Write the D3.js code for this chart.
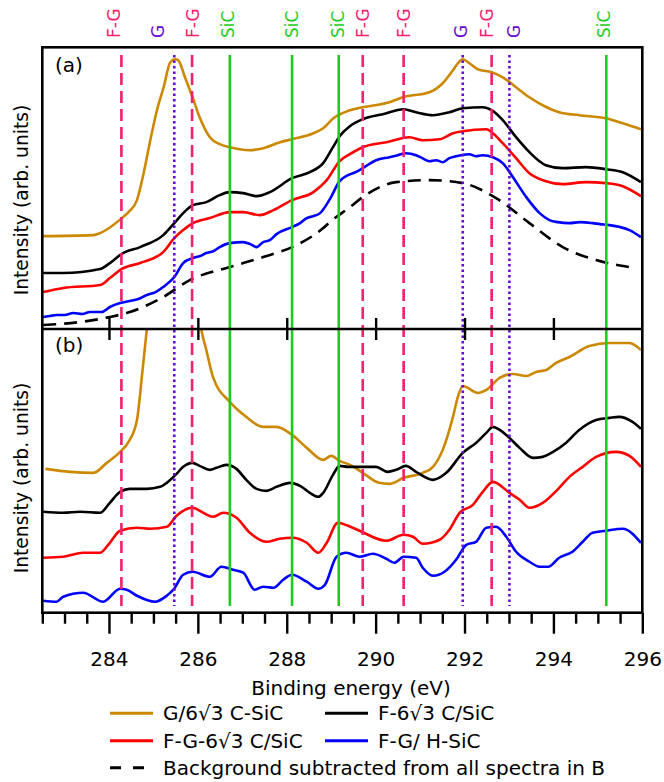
<!DOCTYPE html>
<html>
<head>
<meta charset="utf-8">
<script src="https://cdn.jsdelivr.net/npm/d3@7"></script>
<style>
  body { margin: 0; background: #fff; }
  svg { display: block; font-family: "DejaVu Sans", Verdana, sans-serif; }
</style>
</head>
<body>
<svg id="chart" width="664" height="782"></svg>
<script>
// binding energy (eV), intensity (arb. units) -- panel (a): raw spectra
const goldA = [[282.52,93],[283.65,94],[283.8,96],[284.29,111],[284.44,117],[284.63,129],[284.78,156],[284.93,189],[285.08,219],[285.23,242],[285.38,267],[285.49,270],[285.56,269],[285.71,252],[285.88,232],[286.04,212],[286.27,192],[286.49,185],[286.72,182],[287.17,179],[287.47,181],[287.85,187],[288.12,190],[288.6,196],[288.82,201],[289.05,211],[289.42,219],[289.71,222],[290.31,227],[290.61,232],[291.21,237],[291.51,246],[291.74,259],[291.85,266],[291.96,270],[292.11,266],[292.3,260],[292.61,257],[292.86,252],[293.16,242],[293.46,232],[293.76,224],[294.13,217],[294.58,214],[295.18,211],[295.56,206],[295.97,200]];
const blackA = [[282.52,56],[282.97,56],[283.8,60],[284.02,66],[284.28,75],[284.7,82],[285.22,94],[285.47,106],[285.67,116],[285.89,124],[286.19,127],[286.49,134],[286.72,137],[287.02,136],[287.32,133],[287.62,137],[288.12,151],[288.52,157],[288.82,166],[289.04,182],[289.19,193],[289.42,203],[289.71,210],[290.16,215],[290.63,220],[290.91,217],[291.29,214],[291.66,217],[291.96,221],[292.41,222],[292.61,219],[292.86,209],[293.16,192],[293.46,177],[293.83,164],[294.21,161],[294.73,162],[295.18,160],[295.56,157],[295.97,147]];
const redA = [[282.52,37],[282.97,41],[283.8,44],[284.02,51],[284.28,60],[284.7,66],[285.22,77],[285.47,91],[285.67,99],[285.89,106],[286.27,111],[286.72,117],[287.02,117],[287.39,114],[287.7,119],[288.12,129],[288.6,137],[288.9,149],[289.19,168],[289.42,175],[289.71,182],[290.24,187],[290.76,192],[291.06,189],[291.44,190],[291.74,196],[291.96,198],[292.49,200],[292.61,197],[292.86,186],[293.16,171],[293.46,156],[293.83,148],[294.21,145],[294.73,147],[295.18,146],[295.56,143],[295.97,133]];
const blueA = [[282.52,12],[282.67,13],[282.82,14],[283.0,14],[283.2,16],[283.4,15],[283.57,17],[283.84,17],[284.02,22],[284.25,26],[284.47,28],[284.66,30],[284.85,34],[285.05,37],[285.22,42],[285.47,52],[285.67,66],[285.89,71],[286.05,73],[286.19,76],[286.35,78],[286.49,82],[286.72,86],[287.02,87],[287.18,85],[287.32,82],[287.47,87],[287.62,89],[287.77,95],[288.12,102],[288.3,106],[288.45,111],[288.6,113],[288.75,116],[288.97,130],[289.19,148],[289.38,154],[289.55,157],[289.71,161],[290.01,169],[290.31,172],[290.5,174],[290.68,176],[290.91,174],[291.05,171],[291.21,168],[291.36,169],[291.51,167],[291.66,171],[291.81,173],[292.11,175],[292.25,173],[292.41,174],[292.64,172],[292.86,166],[293.09,152],[293.39,132],[293.69,116],[293.91,109],[294.1,107],[294.36,106],[294.6,107],[294.88,106],[295.05,105],[295.26,104],[295.5,102],[295.71,99],[295.97,92]];
const bgA = [[282.52,4],[283.35,7],[284.02,12],[284.47,17],[285.22,32],[285.82,49],[286.72,62],[287.47,72],[288.22,84],[288.82,101],[288.97,107],[289.42,122],[289.71,132],[290.46,147],[291.21,149],[291.96,146],[292.71,131],[293.46,106],[294.21,82],[294.96,69],[295.71,62]];

// panel (b): background-subtracted spectra
const goldB = [[282.57,144],[283.13,141],[283.65,140],[283.95,150],[284.25,161],[284.44,171],[284.63,193],[284.74,236],[284.85,283],[285.5,620],[286.08,283],[286.19,263],[286.34,236],[286.72,211],[287.09,196],[287.47,186],[287.77,186],[288.12,178],[288.45,165],[288.82,153],[289.0,157],[289.19,152],[289.42,148],[289.71,140],[290.08,130],[290.31,129],[290.63,135],[291.06,140],[291.29,146],[291.51,163],[291.74,196],[291.85,216],[291.96,227],[292.3,220],[292.49,223],[292.79,235],[293.09,239],[293.39,237],[293.61,241],[293.84,243],[294.06,250],[294.36,256],[294.81,267],[295.26,270],[295.71,270],[295.97,263]];
const blackB = [[282.52,101],[282.97,100],[283.35,101],[283.8,100],[284.02,110],[284.25,121],[284.47,124],[284.85,124],[285.15,126],[285.3,130],[285.52,139],[285.67,146],[285.88,150],[286.04,147],[286.27,143],[286.42,145],[286.64,148],[286.87,144],[287.09,133],[287.32,124],[287.54,122],[287.77,126],[288.07,130],[288.3,127],[288.52,120],[288.71,116],[288.82,120],[289.04,138],[289.19,147],[289.38,146],[289.71,146],[290.01,146],[290.27,141],[290.46,143],[290.68,147],[290.91,141],[291.29,133],[291.59,140],[291.96,160],[292.26,170],[292.49,180],[292.64,186],[292.79,183],[293.01,175],[293.24,165],[293.54,155],[293.76,156],[293.99,161],[294.28,170],[294.58,183],[294.96,193],[295.26,195],[295.48,196],[295.78,191],[295.97,184]];
const redB = [[282.52,55],[282.97,56],[283.42,60],[283.8,60],[284.02,70],[284.25,82],[284.63,85],[284.93,84],[285.3,86],[285.52,97],[285.88,105],[286.12,100],[286.34,96],[286.57,100],[286.87,95],[287.17,80],[287.54,71],[287.84,74],[288.12,75],[288.45,70],[288.71,60],[288.9,70],[289.15,90],[289.38,87],[289.64,82],[290.24,72],[290.63,78],[290.84,76],[291.06,69],[291.44,73],[291.66,83],[291.89,100],[292.19,108],[292.41,121],[292.64,131],[293.01,120],[293.24,113],[293.46,105],[293.76,110],[294.13,125],[294.36,136],[294.66,146],[294.96,156],[295.41,161],[295.71,157],[295.97,146]];
const blueB = [[282.52,12],[282.82,11],[282.97,16],[283.42,20],[283.87,11],[284.25,24],[284.4,23],[284.63,17],[285.04,11],[285.3,17],[285.45,23],[285.67,38],[285.88,41],[286.27,36],[286.53,46],[286.79,43],[287.02,40],[287.28,23],[287.47,26],[287.7,25],[287.92,33],[288.12,38],[288.45,31],[288.71,24],[288.86,28],[289.12,56],[289.34,60],[289.64,56],[289.94,59],[290.24,54],[290.42,50],[290.63,56],[290.91,55],[291.06,45],[291.29,37],[291.55,41],[291.81,53],[292.04,68],[292.26,71],[292.49,85],[292.71,86],[292.94,76],[293.16,61],[293.46,51],[293.69,46],[293.88,46],[294.13,55],[294.43,61],[294.66,71],[294.88,80],[295.18,82],[295.56,84],[295.97,70]];

// marker lines: [energy, kind]
const markerLines = [[284.28,"FG"],[285.47,"G"],[285.87,"FG"],[286.72,"SiC"],[288.12,"SiC"],[289.17,"SiC"],[289.71,"FG"],[290.63,"FG"],[291.96,"G"],[292.61,"FG"],[293.01,"G"],[295.19,"SiC"]];
// marker labels: [energy, text, kind]
const markerLabels = [[284.10,"F-G","FG"],[285.11,"G","G"],[285.89,"F-G","FG"],[286.68,"SiC","SiC"],[288.11,"SiC","SiC"],[289.15,"SiC","SiC"],[289.72,"F-G","FG"],[290.63,"F-G","FG"],[291.91,"G","G"],[292.50,"F-G","FG"],[293.10,"G","G"],[295.13,"SiC","SiC"]];

const majorTicks = [284, 286, 288, 290, 292, 294, 296];
const minorTicks = d3.range(282.5, 296.01, 0.5).filter(v => v % 2 !== 0);

const kindStyle = {
  FG: { color: "#f2206e", dash: "12,6" },
  G: { color: "#6a0ad0", dash: "2.5,3" },
  SiC: { color: "#1ecc1e", dash: null }
};

const seriesA = [
  { data: goldA, color: "#cc8800" },
  { data: blackA, color: "#000000" },
  { data: redA, color: "#ff0000" },
  { data: blueA, color: "#0000ff" },
  { data: bgA, color: "#000000", dash: "13,8" }
];
const seriesB = [
  { data: goldB, color: "#cc8800" },
  { data: blackB, color: "#000000" },
  { data: redB, color: "#ff0000" },
  { data: blueB, color: "#0000ff" }
];

const legendItems = [
  { label: "G/6\u221A3 C-SiC", color: "#cc8800", col: 0, row: 0 },
  { label: "F-6\u221A3 C/SiC", color: "#000000", col: 1, row: 0 },
  { label: "F-G-6\u221A3 C/SiC", color: "#ff0000", col: 0, row: 1 },
  { label: "F-G/ H-SiC", color: "#0000ff", col: 1, row: 1 },
  { label: "Background subtracted from all spectra in B", color: "#000000", col: 0, row: 2, dash: "11,12" }
];

const svg = d3.select("#chart");
const plotL = 42.3, plotR = 642.3, plotT = 47.3, plotM = 329, plotB = 612.7;

const x = d3.scaleLinear().domain([282.5, 296]).range([plotL, plotR]);
const yA = d3.scaleLinear().domain([0, 282]).range([plotM, plotT]);
const yB = d3.scaleLinear().domain([0, 284]).range([plotB, plotM]);

const defs = svg.append("defs");
defs.append("clipPath").attr("id", "clipA").append("rect")
  .attr("x", plotL).attr("y", plotT).attr("width", plotR - plotL).attr("height", plotM - plotT);
defs.append("clipPath").attr("id", "clipB").append("rect")
  .attr("x", plotL).attr("y", plotM).attr("width", plotR - plotL).attr("height", plotB - plotM);

function drawSeries(list, y, clip) {
  const line = d3.line().x(d => x(d[0])).y(d => y(d[1])).curve(d3.curveMonotoneX);
  svg.append("g").attr("clip-path", `url(#${clip})`)
    .selectAll("path").data(list).join("path")
    .attr("fill", "none")
    .attr("stroke", d => d.color)
    .attr("stroke-width", 2.6)
    .attr("stroke-linejoin", "round")
    .attr("stroke-dasharray", d => d.dash || null)
    .attr("d", d => line(d.data));
}
drawSeries(seriesA, yA, "clipA");
drawSeries(seriesB, yB, "clipB");

// vertical marker lines
svg.append("g").selectAll("line").data(markerLines).join("line")
  .attr("x1", d => x(d[0])).attr("x2", d => x(d[0]))
  .attr("y1", 55).attr("y2", 606)
  .attr("stroke", d => kindStyle[d[1]].color)
  .attr("stroke-width", 2.6)
  .attr("stroke-dasharray", d => kindStyle[d[1]].dash);

svg.append("g").selectAll("text").data(markerLabels).join("text")
  .attr("transform", d => `translate(${x(d[0])},38) rotate(-90)`)
  .attr("dy", "0.36em")
  .attr("font-size", 17)
  .attr("fill", d => kindStyle[d[2]].color)
  .text(d => d[1]);

// frame
svg.append("rect")
  .attr("x", plotL).attr("y", plotT).attr("width", plotR - plotL).attr("height", plotB - plotT)
  .attr("fill", "none").attr("stroke", "#000").attr("stroke-width", 2.6);
svg.append("line")
  .attr("x1", plotL).attr("x2", plotR).attr("y1", plotM).attr("y2", plotM)
  .attr("stroke", "#000").attr("stroke-width", 2.6);

// middle ticks crossing the separator
const midMajor = majorTicks.filter(v => v < 296);
[d3.axisBottom(x), d3.axisTop(x)].forEach(ax => {
  const g = svg.append("g").attr("transform", `translate(0,${plotM})`)
    .call(ax.tickValues(midMajor).tickSize(11).tickFormat(""));
  g.select(".domain").remove();
  g.selectAll(".tick line").attr("stroke-width", 2.4);
});

// bottom axis
const gMinor = svg.append("g").attr("transform", `translate(0,${plotB})`)
  .call(d3.axisBottom(x).tickValues(minorTicks).tickSize(11).tickFormat(""));
gMinor.select(".domain").remove();
gMinor.selectAll(".tick line").attr("stroke-width", 2.4);

const gMajor = svg.append("g").attr("transform", `translate(0,${plotB})`)
  .call(d3.axisBottom(x).tickValues(majorTicks).tickSize(21).tickPadding(18).tickFormat(d3.format("d")));
gMajor.select(".domain").remove();
gMajor.selectAll(".tick line").attr("stroke-width", 2.4);
gMajor.selectAll(".tick text").attr("font-size", 20).attr("fill", "#000")
  .attr("font-family", "DejaVu Sans, Verdana, sans-serif");

svg.append("text").attr("x", 351).attr("y", 695).attr("text-anchor", "middle")
  .attr("font-size", 20).text("Binding energy (eV)");

// y labels
[200, 478].forEach(cy => {
  svg.append("text").attr("transform", `translate(28,${cy}) rotate(-90)`)
    .attr("text-anchor", "middle").attr("font-size", 18.7)
    .text("Intensity (arb. units)");
});

// panel letters
svg.append("text").attr("x", 55).attr("y", 72).attr("font-size", 20).text("(a)");
svg.append("text").attr("x", 55).attr("y", 352).attr("font-size", 20).text("(b)");

// legend
const colX = [110, 325], rowY = [713.3, 740.7, 767.7];
const lg = svg.append("g").selectAll("g").data(legendItems).join("g")
  .attr("transform", d => `translate(${colX[d.col]},${rowY[d.row]})`);
lg.append("line").attr("x1", 0).attr("x2", 43).attr("y1", 0).attr("y2", 0)
  .attr("stroke", d => d.color).attr("stroke-width", 3)
  .attr("stroke-dasharray", d => d.dash || null);
lg.append("text").attr("x", 53)
  .attr("dy", "0.35em").attr("font-size", 20).text(d => d.label);
</script>
</body>
</html>
